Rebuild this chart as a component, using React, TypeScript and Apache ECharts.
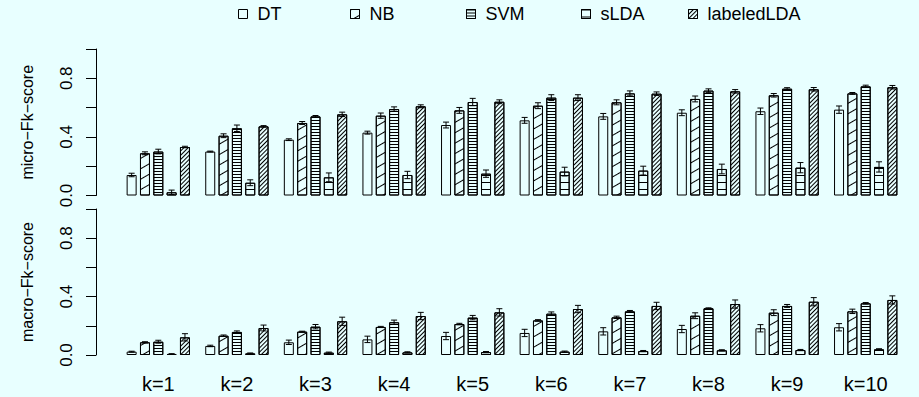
import React, { useEffect, useRef } from "react";
import * as echarts from "echarts";

const categories = ["k=1", "k=2", "k=3", "k=4", "k=5", "k=6", "k=7", "k=8", "k=9", "k=10"];
const methods = ["DT", "NB", "SVM", "sLDA", "labeledLDA"];
const yTicks = ["0.0", "0.4", "0.8"];

// micro-Fk-score (top panel)
const microDT = [0.14, 0.3, 0.381, 0.429, 0.481, 0.513, 0.54, 0.565, 0.575, 0.586];
const microDTErr = [0.012, 0.003, 0.006, 0.01, 0.02, 0.02, 0.02, 0.02, 0.022, 0.025];
const microNB = [0.288, 0.408, 0.495, 0.545, 0.581, 0.613, 0.636, 0.659, 0.684, 0.697];
const microNBErr = [0.01, 0.013, 0.01, 0.018, 0.02, 0.02, 0.017, 0.02, 0.012, 0.006];
const microSVM = [0.3, 0.459, 0.54, 0.59, 0.638, 0.668, 0.697, 0.716, 0.729, 0.745];
const microSVMErr = [0.016, 0.022, 0.006, 0.015, 0.025, 0.02, 0.017, 0.012, 0.007, 0.008];
const microSLDA = [0.022, 0.087, 0.124, 0.14, 0.149, 0.163, 0.17, 0.181, 0.19, 0.195];
const microSLDAErr = [0.015, 0.02, 0.03, 0.025, 0.025, 0.03, 0.03, 0.033, 0.035, 0.035];
const microLLDA = [0.331, 0.472, 0.554, 0.609, 0.64, 0.668, 0.695, 0.711, 0.725, 0.739];
const microLLDAErr = [0.005, 0.005, 0.015, 0.01, 0.013, 0.02, 0.012, 0.012, 0.012, 0.012];

// macro-Fk-score (bottom panel)
const macroDT = [0.023, 0.062, 0.087, 0.107, 0.13, 0.151, 0.162, 0.178, 0.183, 0.19];
const macroDTErr = [0.003, 0.005, 0.015, 0.022, 0.025, 0.025, 0.025, 0.025, 0.025, 0.025];
const macroNB = [0.087, 0.132, 0.16, 0.192, 0.212, 0.237, 0.258, 0.269, 0.29, 0.299];
const macroNBErr = [0.004, 0.005, 0.003, 0.004, 0.005, 0.005, 0.008, 0.02, 0.02, 0.015];
const macroSVM = [0.091, 0.158, 0.194, 0.224, 0.256, 0.283, 0.299, 0.32, 0.336, 0.354];
const macroSVMErr = [0.01, 0.007, 0.015, 0.015, 0.015, 0.012, 0.006, 0.003, 0.01, 0.005];
const macroSLDA = [0.007, 0.011, 0.016, 0.018, 0.02, 0.023, 0.027, 0.032, 0.034, 0.039];
const macroSLDAErr = [0.002, 0.003, 0.004, 0.004, 0.004, 0.004, 0.004, 0.004, 0.004, 0.004];
const macroLLDA = [0.121, 0.185, 0.231, 0.267, 0.292, 0.315, 0.336, 0.349, 0.365, 0.377];
const macroLLDAErr = [0.025, 0.02, 0.028, 0.025, 0.025, 0.025, 0.025, 0.028, 0.028, 0.028];

const panels = [
  {
    title: "micro\u2212Fk\u2212score",
    values: [microDT, microNB, microSVM, microSLDA, microLLDA],
    errors: [microDTErr, microNBErr, microSVMErr, microSLDAErr, microLLDAErr],
  },
  {
    title: "macro\u2212Fk\u2212score",
    values: [macroDT, macroNB, macroSVM, macroSLDA, macroLLDA],
    errors: [macroDTErr, macroNBErr, macroSVMErr, macroSLDAErr, macroLLDAErr],
  },
];

const BG = "#E8FFFF";
const FONT = "Liberation Sans, Arial, Helvetica, sans-serif";
const BAR_W = 10;
const PITCH = BAR_W * 1.333;
const legendLeft = [238, 350, 466, 581, 688];

const line = (dy: number, rot: number) => ({
  symbol: "rect",
  symbolSize: 1,
  dashArrayX: [1, 0],
  dashArrayY: [1, dy],
  rotation: rot,
  color: "#000",
  backgroundColor: "transparent",
});

const decals: any[] = [
  null,
  line(8, -Math.PI / 6),
  line(2, 0),
  line(6, 0),
  line(2, -Math.PI / 4),
];

export default function App() {
  const ref = useRef<HTMLDivElement>(null);
  useEffect(() => {
    if (!ref.current) return;
    const chart = echarts.init(ref.current, undefined, { renderer: "svg" });
    const grids = [
      { left: 119, right: 14, top: 49, height: 146.5 },
      { left: 119, right: 14, top: 209, height: 146 },
    ];
    const xAxes = panels.map((_, p) => ({
      type: "category",
      gridIndex: p,
      data: categories,
      axisLine: { show: false },
      axisTick: { show: false },
      axisLabel: {
        show: p === 1,
        fontSize: 20,
        fontFamily: FONT,
        color: "#000",
        margin: 19,
      },
    }));
    const yAxes = panels.map((panel, p) => ({
      type: "value",
      gridIndex: p,
      min: 0,
      max: 1,
      interval: 0.2,
      offset: 23,
      name: panel.title,
      nameLocation: "middle",
      nameRotate: 90,
      nameGap: 61,
      nameTextStyle: { fontSize: 16, fontFamily: FONT, color: "#000" },
      splitLine: { show: false },
      axisLine: { show: true, lineStyle: { color: "#000", width: 1 } },
      axisTick: { show: true, length: 10, lineStyle: { color: "#000", width: 1 } },
      axisLabel: {
        rotate: 90,
        margin: 21,
        fontSize: 17,
        fontFamily: FONT,
        color: "#000",
        formatter: (v: number) => {
          const idx = Math.round(v * 10);
          return idx % 4 === 0 ? yTicks[idx / 4] : "";
        },
      },
    }));
    const series: any[] = [];
    panels.forEach((panel, p) => {
      methods.forEach((m, j) => {
        series.push({
          type: "bar",
          name: m,
          xAxisIndex: p,
          yAxisIndex: p,
          data: panel.values[j],
          barWidth: BAR_W,
          barGap: "33.3%",
          itemStyle: {
            color: BG,
            borderColor: "#000",
            borderWidth: 1,
            decal: decals[j] || undefined,
          },
          silent: true,
        });
      });
    });
    panels.forEach((panel, p) => {
      methods.forEach((m, j) => {
        series.push({
          type: "custom",
          xAxisIndex: p,
          yAxisIndex: p,
          silent: true,
          z: 5,
          encode: { x: 0, y: 1 },
          data: panel.values[j].map((v, i) => [i, v, panel.errors[j][i]]),
          renderItem: (params: any, api: any) => {
            const i = api.value(0);
            const v = api.value(1);
            const e = api.value(2);
            const c = api.coord([i, v]);
            const hi = api.coord([i, v + e]);
            const lo = api.coord([i, Math.max(0, v - e)]);
            const x = c[0] + (j - 2) * PITCH;
            const st = { stroke: "#000", lineWidth: 1 };
            return {
              type: "group",
              children: [
                { type: "line", shape: { x1: x, y1: hi[1], x2: x, y2: lo[1] }, style: st },
                { type: "line", shape: { x1: x - 3, y1: hi[1], x2: x + 3, y2: hi[1] }, style: st },
                { type: "line", shape: { x1: x - 3, y1: lo[1], x2: x + 3, y2: lo[1] }, style: st },
              ],
            };
          },
        });
      });
    });
    const legends = methods.map((m, j) => ({
      data: [m],
      left: legendLeft[j],
      top: 5,
      padding: 0,
      icon: "rect",
      itemWidth: 9,
      itemHeight: 9,
      selectedMode: false,
      itemStyle: { borderWidth: 1, borderColor: "#000" },
      textStyle: { fontSize: 18, fontFamily: FONT, color: "#000", padding: [0, 0, 0, 5] },
    }));
    chart.setOption({
      animation: false,
      backgroundColor: BG,
      grid: grids,
      xAxis: xAxes,
      yAxis: yAxes,
      legend: legends,
      series,
    });
    return () => chart.dispose();
  }, []);
  return (
    <div
      ref={ref}
      style={{ position: "absolute", left: 0, top: 0, width: 919, height: 397 }}
    />
  );
}
